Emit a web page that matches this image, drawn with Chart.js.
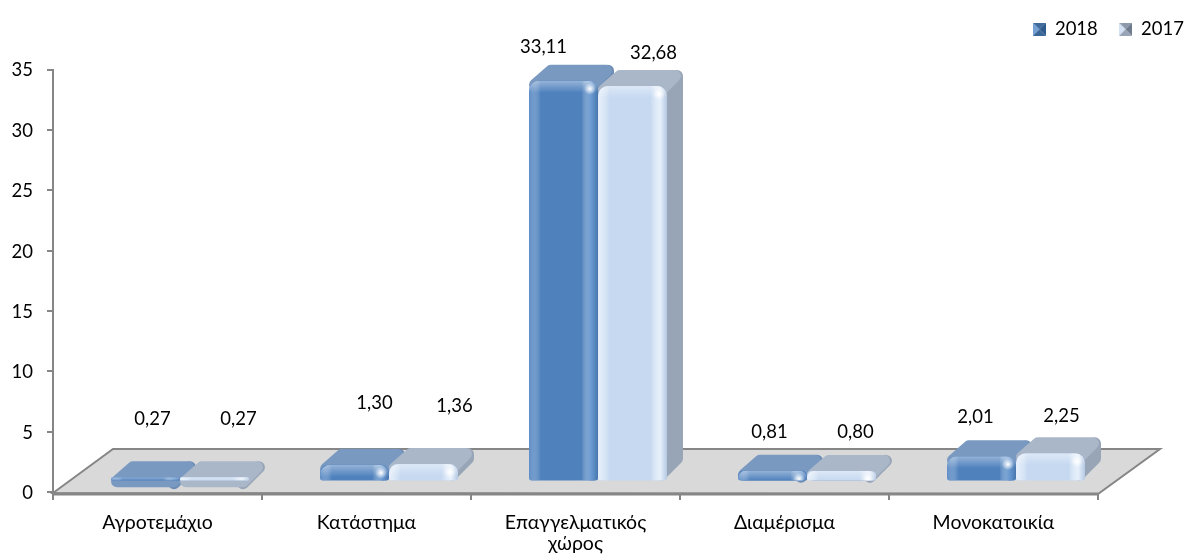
<!DOCTYPE html>
<html>
<head>
<meta charset="utf-8">
<script src="https://cdn.jsdelivr.net/npm/chart.js@4"></script>
<style>
  html, body { margin: 0; padding: 0; background: #fff; }
  canvas { display: block; }
</style>
</head>
<body>
<canvas id="chart" width="1184" height="556"></canvas>
<script>
const categories = ['Αγροτεμάχιο', 'Κατάστημα', ['Επαγγελματικός', 'χώρος'], 'Διαμέρισμα', 'Μονοκατοικία'];
const values2018 = [0.27, 1.30, 33.11, 0.81, 2.01];
const values2017 = [0.27, 1.36, 32.68, 0.80, 2.25];

// hand placed label offsets (px from the bar's front top centre)
const labelNudge2018 = [[7, -58], [20, -62], [-20, -34], [-3, -39], [-6, -39]];
const labelNudge2017 = [[24, -58], [31, -58], [21, -33], [14, -39], [11, -37]];

const FONT = "Lato, 'Open Sans', sans-serif";
const FONT_SIZE = 18.5;
const DEPTH = 16;
const SHIFT = 22.5;   // bars sit on the middle of the floor, not over the front edge
const LEGEND_GAP = 21;
const GRAY = '#868686';

const looks = {
  '2018': { top: '#7a99c0', side: '#6d8db5', dark: '#4674ad', light: 'rgba(112,160,214,0.8)', left: 'rgba(100,146,202,0.7)' },
  '2017': { top: '#aab7c9', side: '#98a5b6', dark: '#b4c8e2', light: 'rgba(232,241,252,0.95)', left: 'rgba(232,241,252,0.9)' }
};

function legendIcon(c1, c2, c3, c4) {
  const cv = document.createElement('canvas');
  cv.width = 13; cv.height = 13;
  const g = cv.getContext('2d');
  const tri = (x1, y1, x2, y2, col) => {
    g.fillStyle = col;
    g.beginPath(); g.moveTo(x1, y1); g.lineTo(x2, y2); g.lineTo(6.5, 6.5); g.closePath(); g.fill();
  };
  tri(0, 0, 13, 0, c1);
  tri(13, 0, 13, 13, c2);
  tri(13, 13, 0, 13, c3);
  tri(0, 13, 0, 0, c4);
  return cv;
}
const icons = [
  legendIcon('#3e6a9c', '#2f5a8c', '#3a6698', '#74a0d4'),
  legendIcon('#8d99ab', '#6f7b8c', '#98a4b5', '#d4e2f5')
];

function roundedPoly(ctx, pts, color) {
  ctx.fillStyle = color;
  ctx.strokeStyle = color;
  ctx.lineWidth = 12;
  ctx.lineJoin = 'round';
  ctx.beginPath();
  pts.forEach((p, i) => i ? ctx.lineTo(p[0], p[1]) : ctx.moveTo(p[0], p[1]));
  ctx.closePath();
  ctx.fill();
  ctx.stroke();
}

const bars3d = {
  id: 'bars3d',
  afterDatasetsUpdate(chart) {
    // keep 2018 on the left while 2017 is painted over it
    const a = chart.getDatasetMeta(0).data, b = chart.getDatasetMeta(1).data;
    a.forEach((bar, i) => {
      if (bar.x > b[i].x) { const t = bar.x; bar.x = b[i].x; b[i].x = t; }
    });
  },
  beforeDatasetsDraw(chart) {
    const ctx = chart.ctx;
    const a = chart.chartArea;
    // floor
    ctx.save();
    ctx.fillStyle = '#d9d9d9';
    ctx.beginPath();
    ctx.moveTo(a.left, a.bottom + 1);
    ctx.lineTo(a.left + 60, a.bottom - 43);
    ctx.lineTo(a.right + 62, a.bottom - 43);
    ctx.lineTo(a.right, a.bottom + 2);
    ctx.closePath();
    ctx.fill();
    ctx.strokeStyle = GRAY;
    ctx.lineWidth = 2;
    ctx.stroke();
    ctx.lineWidth = 3;
    ctx.beginPath();
    ctx.moveTo(a.left, a.bottom + 2);
    ctx.lineTo(a.right, a.bottom + 2);
    ctx.stroke();
    ctx.restore();
    ctx.save();
    ctx.translate(SHIFT, 0);
  },
  beforeDatasetDraw(chart, args) {
    const ctx = chart.ctx;
    const look = looks[chart.data.datasets[args.index].label];
    args.meta.data.forEach(bar => {
      const p = bar.getProps(['x', 'y', 'base', 'width'], true);
      const x0 = p.x - p.width / 2, x1 = p.x + p.width / 2;
      const top = p.y, base = p.base;
      const r = 6;
      ctx.save();
      roundedPoly(ctx, [[x1 - r, top + r], [x1 + DEPTH - r, top - DEPTH + r], [x1 + DEPTH - r, Math.max(base - DEPTH - r, top - DEPTH + r)], [x1 - r, base - r]], look.side);
      roundedPoly(ctx, [[x0 + r, top + r - 2], [x0 + DEPTH + r, top - DEPTH + r], [x1 + DEPTH - r - 2, top - DEPTH + r], [x1 - r, top + r - 2]], look.top);
      ctx.restore();
    });
  },
  afterDatasetDraw(chart, args) {
    const ctx = chart.ctx;
    const look = looks[chart.data.datasets[args.index].label];
    args.meta.data.forEach(bar => {
      const p = bar.getProps(['x', 'y', 'base', 'width'], true);
      const x0 = p.x - p.width / 2, x1 = p.x + p.width / 2;
      const h = p.base - p.y;
      if (h < 1) return;
      ctx.save();
      const tr = Math.min(10, h), br = Math.min(3, h / 2);
      ctx.beginPath();
      ctx.roundRect(x0, p.y, p.width, h, [tr, tr, br, br]);
      ctx.clip();
      const side = ctx.createLinearGradient(x0, 0, x1, 0);
      side.addColorStop(0, look.left);
      side.addColorStop(0.17, 'rgba(255,255,255,0)');
      side.addColorStop(0.76, 'rgba(255,255,255,0)');
      side.addColorStop(0.9, look.light);
      side.addColorStop(1, look.dark);
      ctx.fillStyle = side;
      ctx.fillRect(x0, p.y, p.width, h);
      const band = ctx.createLinearGradient(0, p.y, 0, p.y + Math.min(12, h));
      band.addColorStop(0, 'rgba(255,255,255,0.4)');
      band.addColorStop(1, 'rgba(255,255,255,0)');
      ctx.fillStyle = band;
      ctx.fillRect(x0, p.y, p.width, Math.min(12, h));
      if (h > 8) {
        const spec = ctx.createRadialGradient(x1 - 8, p.y + 8, 0, x1 - 8, p.y + 8, 6);
        spec.addColorStop(0, 'rgba(255,255,255,1)');
        spec.addColorStop(1, 'rgba(255,255,255,0)');
        ctx.fillStyle = spec;
        ctx.fillRect(x1 - 16, p.y, 16, 16);
      }
      ctx.restore();
    });
  },
  afterDatasetsDraw(chart) {
    const ctx = chart.ctx;
    ctx.restore();
    ctx.save();
    ctx.font = FONT_SIZE + 'px ' + FONT;
    ctx.fillStyle = '#000';
    ctx.textAlign = 'center';
    ctx.textBaseline = 'middle';
    [[values2018, labelNudge2018], [values2017, labelNudge2017]].forEach((set, d) => {
      chart.getDatasetMeta(d).data.forEach((bar, i) => {
        const txt = set[0][i].toFixed(2).replace('.', ',');
        ctx.fillText(txt, bar.x + SHIFT + set[1][i][0], bar.y + set[1][i][1]);
      });
    });
    ctx.restore();
  },
  afterLayout(chart) {
    // pull the legend into the corner, past its trailing padding
    chart.legend.left += LEGEND_GAP;
    chart.legend.right += LEGEND_GAP;
    chart.legend.top -= 21;
    chart.legend.bottom -= 21;
  }
};

new Chart(document.getElementById('chart'), {
  type: 'bar',
  data: {
    labels: categories,
    datasets: [
      { label: '2018', data: values2018, backgroundColor: '#4f81bd', yAxisID: 'yBars', order: 1, clip: false,
        borderRadius: { topLeft: 10, topRight: 10, bottomLeft: 3, bottomRight: 3 }, borderSkipped: false,
        barPercentage: 1, categoryPercentage: 0.66 },
      { label: '2017', data: values2017, backgroundColor: '#c6d9f1', yAxisID: 'yBars', order: 0, clip: false,
        borderRadius: { topLeft: 10, topRight: 10, bottomLeft: 3, bottomRight: 3 }, borderSkipped: false,
        barPercentage: 1, categoryPercentage: 0.66 }
    ]
  },
  options: {
    responsive: false,
    animation: false,
    layout: { padding: { top: 20 } },
    plugins: {
      tooltip: { enabled: false },
      legend: {
        position: 'top',
        align: 'end',
        labels: {
          usePointStyle: true,
          pointStyleWidth: 13,
          padding: LEGEND_GAP,
          color: '#000',
          font: { family: FONT, size: FONT_SIZE },
          sort: (a, b) => a.datasetIndex - b.datasetIndex,
          generateLabels(chart) {
            const items = Chart.defaults.plugins.legend.labels.generateLabels(chart);
            items.forEach(it => { it.pointStyle = icons[it.datasetIndex]; });
            return items;
          }
        }
      }
    },
    scales: {
      x: {
        afterFit(scale) { scale.height = 64; },
        border: { display: false },
        grid: { drawOnChartArea: false, color: GRAY, lineWidth: 2, tickLength: 8, offset: true },
        ticks: { color: '#000', font: { family: FONT, size: 19.5, lineHeight: 1.08 }, padding: 12, maxRotation: 0, autoSkip: false }
      },
      y: {
        min: 0,
        max: 35,
        afterFit(scale) { scale.width = 53; },
        border: { color: GRAY, width: 2 },
        grid: { drawOnChartArea: false, color: GRAY, lineWidth: 2, tickLength: 6 },
        ticks: { stepSize: 5, color: '#000', font: { family: FONT, size: FONT_SIZE }, padding: 14, labelOffset: 1 }
      },
      yBars: {
        position: 'right',
        min: -0.95,
        max: 34.05,
        afterFit(scale) { scale.width = 86; },
        border: { display: false },
        grid: { display: false },
        ticks: { display: false }
      }
    }
  },
  plugins: [bars3d]
});
</script>
</body>
</html>
